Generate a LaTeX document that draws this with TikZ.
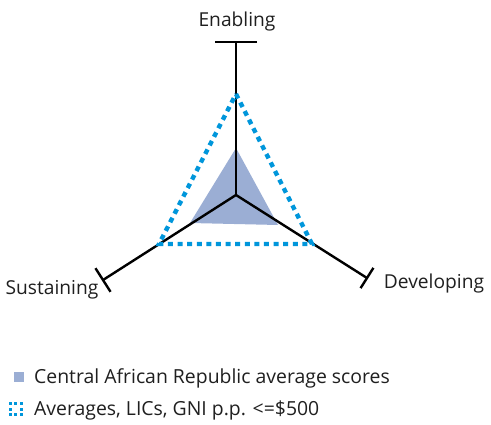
\documentclass[tikz,border=0pt]{standalone}
\usepackage{fontspec}
\setmainfont{Open Sans}
\usetikzlibrary{calc}
\definecolor{carfill}{RGB}{155,174,212}
\definecolor{licblue}{RGB}{0,150,219}
\tikzset{
  axisline/.style={line width=2.4pt,black},
  licline/.style={line width=4.4pt,licblue,dash pattern=on 5pt off 4.6pt},
  axlabel/.style={font=\fontsize{19.2}{22}\selectfont,text=black!88,inner sep=0pt},
  leglabel/.style={font=\fontsize{19.4}{22}\selectfont,text=black!88,inner sep=0pt,anchor=west},
  legdot/.style={fill=licblue,minimum size=3pt,inner sep=0pt,draw=none}
}
\begin{document}
\begin{tikzpicture}[x=1pt,y=-1pt]
\useasboundingbox (0,0) rectangle (491,425);
% filled triangle (Central African Republic)
\coordinate (ct) at (236,148);
\coordinate (cl) at (190,223);
\coordinate (cr) at (278,225);
\fill[carfill] (ct) -- (cl) -- (cr) -- cycle;
% axes
\coordinate (C) at (236,195);
\coordinate (T) at (236,42);
\coordinate (R) at (367,278);
\coordinate (L) at (103,280);
\draw[axisline] (C) -- (T);
\draw[axisline] (C) -- (R);
\draw[axisline] (C) -- (L);
\draw[axisline] ($(T)!21pt!90:(C)$) -- ($(T)!21pt!-90:(C)$);
\draw[axisline] ($(R)!12pt!90:(C)$) -- ($(R)!12pt!-90:(C)$);
\draw[axisline] ($(L)!14pt!90:(C)$) -- ($(L)!14pt!-90:(C)$);
% dotted triangle (averages)
\coordinate (dt) at (236,94);
\coordinate (dl) at (159,244);
\coordinate (dr) at (312,244);
\draw[licline] (dt) -- (dr) -- (dl) -- cycle;
% axis labels
\node[axlabel] (en) at (237,22) {Enabling};
\node[axlabel] (su) at (52,290) {Sustaining};
\node[axlabel] (de) at (434,284) {Developing};
% legend
\node[fill=carfill,minimum size=10pt,inner sep=0pt] (lg1) at (19,377) {};
\node[leglabel] (lt1) at (34,378) {Central African Republic average scores};
\foreach \i/\x/\y in {a/10/404,b/15.5/404,c/21/404,d/10/409.5,e/21/409.5,f/10/415,g/15.5/415,h/21/415}
  \node[legdot] (ld\i) at (\x,\y) {};
\node[leglabel] (lt2) at (34,410) {Averages, LICs, GNI p.p. <=\$500};
\end{tikzpicture}
\end{document}
